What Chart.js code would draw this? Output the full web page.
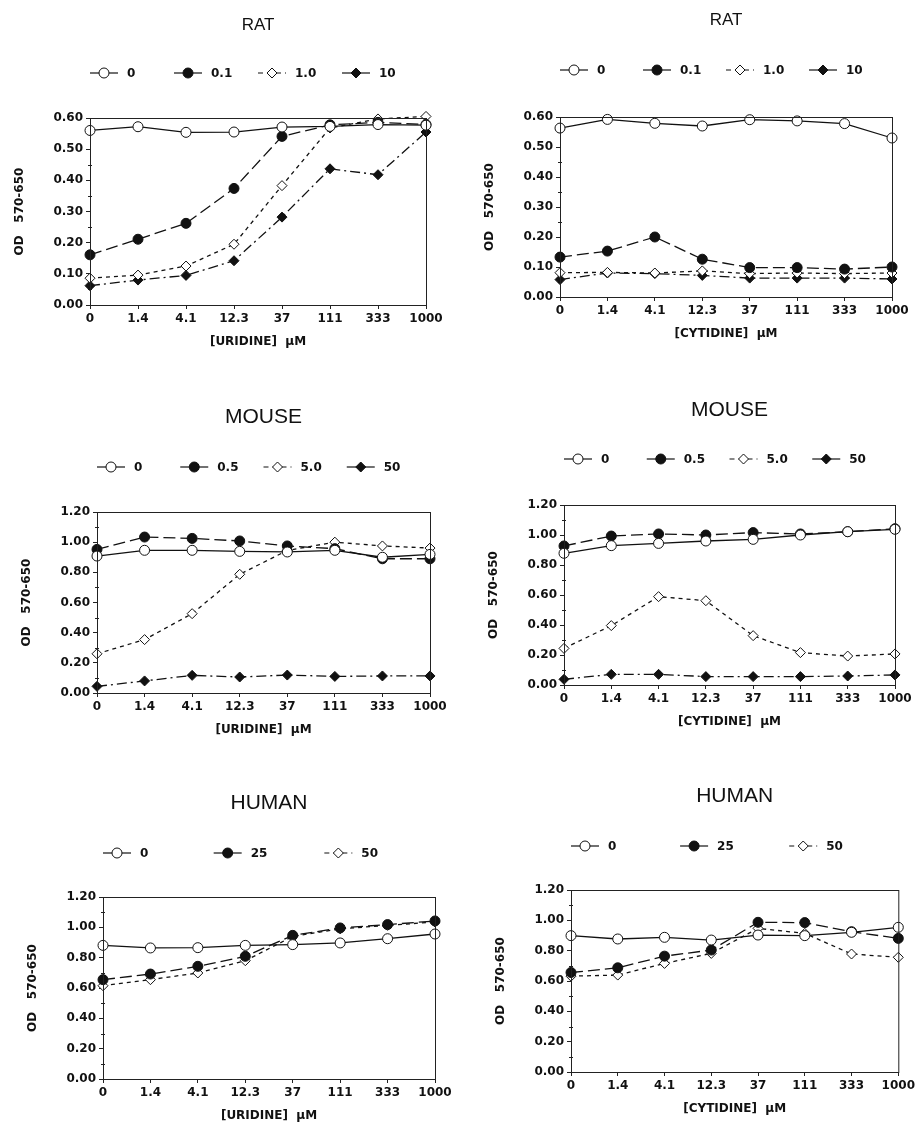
<!DOCTYPE html>
<html><head><meta charset="utf-8">
<script src="https://cdn.jsdelivr.net/npm/chart.js@4.4.0/dist/chart.umd.min.js"></script>
<style>
body{margin:0;background:#fff;width:918px;height:1124px;position:relative;overflow:hidden}
.p{position:absolute}
</style></head><body>
<div class="p" style="left:0;top:0;width:459px;height:375px"><canvas id="c1"></canvas></div>
<div class="p" style="left:459px;top:0;width:459px;height:375px"><canvas id="c2"></canvas></div>
<div class="p" style="left:0;top:375px;width:459px;height:385px"><canvas id="c3"></canvas></div>
<div class="p" style="left:459px;top:375px;width:459px;height:385px"><canvas id="c4"></canvas></div>
<div class="p" style="left:0;top:760px;width:459px;height:364px"><canvas id="c5"></canvas></div>
<div class="p" style="left:459px;top:760px;width:459px;height:364px"><canvas id="c6"></canvas></div>
<script>
// ---- data ----
const xLabels = ['0','1.4','4.1','12.3','37','111','333','1000'];
const ratDoses = ['0','0.1','1.0','10'];
const mouseDoses = ['0','0.5','5.0','50'];
const humanDoses = ['0','25','50'];

const ratUridine_0  = [0.560,0.572,0.554,0.555,0.571,0.573,0.579,0.577];
const ratUridine_01 = [0.161,0.211,0.262,0.374,0.541,0.578,0.586,0.579];
const ratUridine_1  = [0.086,0.096,0.125,0.195,0.383,0.568,0.597,0.605];
const ratUridine_10 = [0.062,0.080,0.095,0.142,0.282,0.437,0.418,0.555];

const ratCytidine_0  = [0.563,0.592,0.579,0.570,0.591,0.587,0.578,0.530];
const ratCytidine_01 = [0.133,0.153,0.200,0.126,0.098,0.098,0.093,0.100];
const ratCytidine_1  = [0.081,0.082,0.080,0.087,0.078,0.080,0.078,0.080];
const ratCytidine_10 = [0.058,0.080,0.078,0.072,0.063,0.063,0.063,0.060];

const mouseUridine_0  = [0.908,0.946,0.946,0.939,0.935,0.946,0.900,0.919];
const mouseUridine_05 = [0.952,1.034,1.025,1.008,0.975,0.957,0.890,0.890];
const mouseUridine_5  = [0.260,0.354,0.526,0.787,0.945,1.000,0.975,0.961];
const mouseUridine_50 = [0.044,0.080,0.117,0.106,0.119,0.110,0.113,0.113];

const mouseCytidine_0  = [0.878,0.929,0.944,0.960,0.971,1.000,1.022,1.038];
const mouseCytidine_05 = [0.927,0.993,1.007,1.000,1.016,1.007,1.022,1.042];
const mouseCytidine_5  = [0.244,0.396,0.589,0.562,0.329,0.216,0.193,0.207];
const mouseCytidine_50 = [0.038,0.071,0.071,0.056,0.056,0.056,0.060,0.067];

const humanUridine_0  = [0.881,0.864,0.866,0.881,0.886,0.897,0.925,0.956];
const humanUridine_25 = [0.655,0.692,0.743,0.809,0.947,0.996,1.018,1.042];
const humanUridine_50 = [0.615,0.655,0.699,0.780,0.940,0.990,1.013,1.035];

const humanCytidine_0  = [0.899,0.877,0.888,0.870,0.903,0.899,0.921,0.954];
const humanCytidine_25 = [0.656,0.687,0.764,0.804,0.987,0.985,0.925,0.881];
const humanCytidine_50 = [0.632,0.639,0.716,0.782,0.947,0.914,0.778,0.756];

// ---- styles ----
const INK = '#111';
const seriesStyles = [
  {dash:[], pointStyle:'circle', fill:'#fff'},
  {dash:[12,5], pointStyle:'circle', fill:INK},
  {dash:[4,4], pointStyle:'rectRot', fill:'#fff'},
  {dash:[10,4,2,4], pointStyle:'rectRot', fill:INK}
];
const legendDash = [[], [], [5,4], []];
const TICKFONT = {family:'"DejaVu Sans", sans-serif', weight:'bold', size:12};

function drawMarker(ctx, style, fill, x, y, r){
  ctx.save();
  ctx.setLineDash([]);
  ctx.lineWidth = 1;
  ctx.strokeStyle = INK;
  ctx.fillStyle = fill;
  ctx.beginPath();
  if (style === 'circle') ctx.arc(x, y, r, 0, Math.PI*2);
  else { ctx.moveTo(x, y-r); ctx.lineTo(x+r, y); ctx.lineTo(x, y+r); ctx.lineTo(x-r, y); ctx.closePath(); }
  ctx.fill(); ctx.stroke();
  ctx.restore();
}

const decor = {
  id:'decor',
  beforeDatasetsDraw(chart){
    // minor ticks on the y axis, halfway between labelled ticks
    const ctx = chart.ctx, a = chart.chartArea, ys = chart.scales.y;
    const t = ys.ticks;
    ctx.save();
    ctx.strokeStyle = '#222'; ctx.lineWidth = 1;
    for (let i = 0; i < t.length - 1; i++) {
      const yp = Math.round(ys.getPixelForValue((t[i].value + t[i+1].value) / 2)) + 0.5;
      ctx.beginPath(); ctx.moveTo(a.left - 2, yp); ctx.lineTo(a.left + 2, yp); ctx.stroke();
    }
    ctx.restore();
  },
  afterDraw(chart, args, o){
    const ctx = chart.ctx, a = chart.chartArea;
    ctx.save();
    ctx.strokeStyle = '#222'; ctx.lineWidth = 1; ctx.setLineDash([]);
    ctx.strokeRect(a.left+0.5, a.top+0.5, a.right-a.left, a.bottom-a.top);
    ctx.fillStyle = INK;
    ctx.font = o.titleSize + 'px "Liberation Sans", Arial, sans-serif';
    ctx.textAlign = 'center'; ctx.textBaseline = 'middle';
    ctx.fillText(o.title, (a.left+a.right)/2, o.titleY);
    const dss = chart.data.datasets;
    const sp = (a.right - a.left) / dss.length;
    ctx.font = 'bold 12px "DejaVu Sans", sans-serif';
    ctx.textAlign = 'left';
    dss.forEach((ds, i) => {
      const x0 = a.left + i*sp, y = o.legendY;
      ctx.save();
      ctx.strokeStyle = INK; ctx.lineWidth = 1.2;
      ctx.setLineDash(legendDash[i]);
      ctx.beginPath(); ctx.moveTo(x0, y); ctx.lineTo(x0+28, y); ctx.stroke();
      ctx.restore();
      drawMarker(ctx, ds.pointStyle, ds.pointBackgroundColor, x0+14, y, 5);
      ctx.fillStyle = INK;
      ctx.fillText(ds.label, x0+37, y+1);
    });
    ctx.restore();
  }
};

function makeChart(id, cfg){
  const el = document.getElementById(id);
  const w = el.parentNode.clientWidth, h = el.parentNode.clientHeight;
  const YW = 77, XH = 44;
  const datasets = cfg.series.map((data, i) => {
    const s = seriesStyles[i];
    return {
      label: cfg.doses[i], data,
      borderColor: INK, borderWidth: 1.3, borderDash: s.dash,
      pointStyle: s.pointStyle, pointRadius: 5, pointHoverRadius: 5,
      pointBackgroundColor: s.fill, pointBorderColor: INK, pointBorderWidth: 1,
      tension: 0, clip: false, fill: false, order: i
    };
  });
  return new Chart(el, {
    type:'line',
    data:{labels: xLabels, datasets},
    plugins:[decor],
    options:{
      responsive:true, maintainAspectRatio:false, animation:false,
      layout:{padding:{left: cfg.area.L - YW, top: cfg.area.T, right: w - cfg.area.R, bottom: h - cfg.area.B - XH}},
      plugins:{
        legend:{display:false}, tooltip:{enabled:false}, title:{display:false},
        decor:{title: cfg.title, titleSize: cfg.titleSize, titleY: cfg.titleY, legendY: cfg.legendY}
      },
      scales:{
        x:{
          type:'category', offset:false,
          afterFit(s){ s.height = XH; },
          grid:{display:true, drawOnChartArea:false, drawTicks:true, tickLength:4, color:'#222'},
          border:{display:true, color:'#222', width:1},
          ticks:{color:INK, font:TICKFONT, maxRotation:0, autoSkip:false, padding:3},
          title:{display:true, text: cfg.xTitle, color:INK, font:TICKFONT, padding:0}
        },
        y:{
          min:0, max: cfg.yMax,
          afterFit(s){ s.width = YW; },
          grid:{display:true, drawOnChartArea:false, drawTicks:true, tickLength:4, color:'#222'},
          border:{display:true, color:'#222', width:1},
          ticks:{stepSize: cfg.yStep, color:INK, font:TICKFONT, padding:3, callback:v => Number(v).toFixed(2)},
          title:{display:true, text:'OD   570-650', color:INK, font:TICKFONT, padding:0}
        }
      }
    }
  });
}

makeChart('c1', {title:'RAT', titleSize:17, titleY:25, legendY:73, area:{L:90,R:426,T:118,B:305},
  yMax:0.6, yStep:0.1, xTitle:'[URIDINE]  µM', doses:ratDoses,
  series:[ratUridine_0, ratUridine_01, ratUridine_1, ratUridine_10]});
makeChart('c2', {title:'RAT', titleSize:17, titleY:20, legendY:70, area:{L:101,R:433,T:117,B:297},
  yMax:0.6, yStep:0.1, xTitle:'[CYTIDINE]  µM', doses:ratDoses,
  series:[ratCytidine_0, ratCytidine_01, ratCytidine_1, ratCytidine_10]});
makeChart('c3', {title:'MOUSE', titleSize:21, titleY:42, legendY:92, area:{L:97,R:430,T:137,B:318},
  yMax:1.2, yStep:0.2, xTitle:'[URIDINE]  µM', doses:mouseDoses,
  series:[mouseUridine_0, mouseUridine_05, mouseUridine_5, mouseUridine_50]});
makeChart('c4', {title:'MOUSE', titleSize:21, titleY:35, legendY:84, area:{L:105,R:436,T:130,B:310},
  yMax:1.2, yStep:0.2, xTitle:'[CYTIDINE]  µM', doses:mouseDoses,
  series:[mouseCytidine_0, mouseCytidine_05, mouseCytidine_5, mouseCytidine_50]});
makeChart('c5', {title:'HUMAN', titleSize:21, titleY:43, legendY:93, area:{L:103,R:435,T:137,B:319},
  yMax:1.2, yStep:0.2, xTitle:'[URIDINE]  µM', doses:humanDoses,
  series:[humanUridine_0, humanUridine_25, humanUridine_50]});
makeChart('c6', {title:'HUMAN', titleSize:21, titleY:36, legendY:86, area:{L:112,R:442,T:130,B:312},
  yMax:1.2, yStep:0.2, xTitle:'[CYTIDINE]  µM', doses:humanDoses,
  series:[humanCytidine_0, humanCytidine_25, humanCytidine_50]});
</script>
</body></html>
